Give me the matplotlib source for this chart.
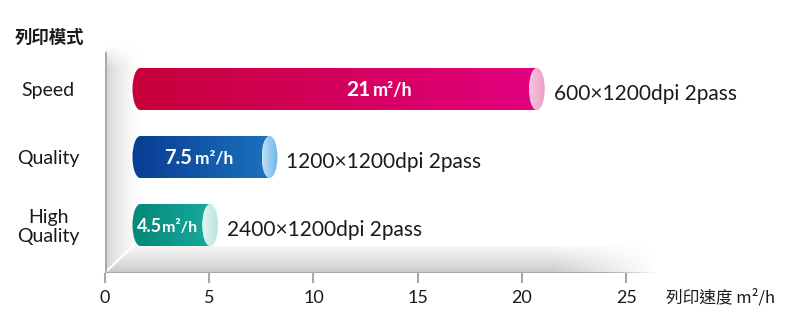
import numpy as np
import matplotlib.pyplot as plt
from matplotlib.patches import Ellipse, Polygon
from matplotlib.collections import LineCollection

plt.rcParams['font.family'] = ['Lato', 'Noto Sans CJK TC', 'DejaVu Sans']

# data
modes = ["High\nQuality", "Quality", "Speed"]
speeds = [4.5, 7.5, 21]
speed_text = ["4.5", "7.5", "21"]
unit = "m²/h"
resolutions = ["2400×1200dpi 2pass", "1200×1200dpi 2pass", "600×1200dpi 2pass"]
xticks = [0, 5, 10, 15, 20, 25]

# styles (left colour, right colour, cap left, cap right)
bar_cols = [("#07897b", "#16ab9d", "#e2f5f1", "#b9e6de"),
            ("#0a3e93", "#1b72be", "#c4e1f6", "#6bb4e6"),
            ("#c7003b", "#e2007f", "#f8c8de", "#ec9cc5")]
label_x = [2.05, 3.6, 12.6]       # where number and unit meet on each bar
unit_gap = [0.0, 0.12, 0.12]
num_size = [13, 14.5, 15]
unit_size = [11.5, 12.5, 13]
bar_start = 0.98
bar_h = 0.62
cap_w = 0.8

fig = plt.figure(figsize=(8.01, 3.32), dpi=100)
ax = fig.add_axes([105 / 801, 59 / 332, 550 / 801, 228 / 332])
xmax = 26.38
ybot, ytop = -0.706, 2.647


def hex2rgb(h):
    h = h.lstrip('#')
    return np.array([int(h[i:i + 2], 16) / 255 for i in (0, 2, 4)])


def hgrad(a, c0, c1, ext, clip, z):
    t = np.linspace(0, 1, 200)[:, None]
    img = ((1 - t) * hex2rgb(c0) + t * hex2rgb(c1))[None, :, :]
    im = a.imshow(img, extent=ext, aspect='auto', origin='lower',
                  interpolation='bilinear', zorder=z)
    im.set_clip_path(clip)
    return im


# back wall
nx, ny = 60, 200
gx = np.linspace(0, 1, nx)[None, :]
gy = np.linspace(0, 1, ny)[:, None]
wall = 0.80 + 0.20 * gx ** 0.6
wall = wall + (1 - wall) * np.clip((gy - 0.9) / 0.1, 0, 1)
ax.imshow(np.dstack([wall] * 3), extent=[0, 1.6, ybot, ytop], aspect='auto',
          origin='lower', interpolation='bilinear', zorder=0)

# floor
floor_top = ybot + 27 / 68
fx = np.linspace(0, xmax, 400)[None, :]
fy = np.linspace(1, 0, 60)[:, None]
floor = 0.78 + 0.19 * fy ** 0.8
fade = np.clip((fx - 21.5) / (xmax - 21.5), 0, 1)
floor = floor + (1 - floor) * fade
im = ax.imshow(np.dstack([floor] * 3), extent=[0, xmax, ybot, floor_top],
               aspect='auto', origin='upper', interpolation='bilinear', zorder=0.5)
fpoly = Polygon([(0, ybot), (xmax, ybot), (xmax, floor_top), (1.34, floor_top)],
                closed=True, transform=ax.transData, fc='none', ec='none')
ax.add_patch(fpoly)
im.set_clip_path(fpoly)
ax.plot([0.05, 1.34], [ybot + 0.02, floor_top], color='white', lw=1.5, zorder=1)

# axis line fading at the right
xs = np.linspace(0, xmax, 120)
segs = [[(xs[i], ybot), (xs[i + 1], ybot)] for i in range(len(xs) - 1)]
alphas = np.clip((xmax - xs[:-1]) / 2.5, 0, 1)
lc = LineCollection(segs, colors=[(0.64, 0.64, 0.64, a) for a in alphas],
                    linewidths=2, zorder=2)
ax.add_collection(lc)
ax.plot([0, 0], [ybot, ytop - 0.12], color='#a8a8a8', lw=2, zorder=2)

ax.set_xlim(0, xmax)
ax.set_ylim(ybot, ytop)
for s in ax.spines.values():
    s.set_visible(False)
ax.set_xticks(xticks)
ax.tick_params(axis='x', length=7.2, width=1.5, color='#a8a8a8', pad=5,
               labelsize=13, labelcolor='#1a1a1a')
ax.set_yticks(range(len(modes)))
ax.set_yticklabels(modes, ha='center', multialignment='center', fontsize=14,
                   color='#1a1a1a', linespacing=1.12)
ax.tick_params(axis='y', length=0, pad=41)
for lab in ax.get_yticklabels():
    lab.set_va('center_baseline')

ax.text(-0.1636, 1.03, "列印模式", transform=ax.transAxes, fontsize=12.5,
        fontweight='bold', family=['Noto Sans CJK TC'], va='center', ha='left',
        color='#1a1a1a')
ax.text(1.02, -0.11, "列印速度 m²/h", transform=ax.transAxes, fontsize=12,
        family=['Noto Sans CJK TC', 'Lato'], va='center', ha='left', color='#1a1a1a')

# bars on the back plane
ax2 = ax.twiny()
ax2.set_xlim(-0.808, 26.97)
ax2.axis('off')
ypos = np.arange(len(speeds))
widths = [v - bar_start for v in speeds]
bars = ax2.barh(ypos, widths, left=bar_start, height=bar_h, color='none', zorder=3)
for i, (b, v) in enumerate(zip(bars, speeds)):
    c0, c1, k0, k1 = bar_cols[i]
    y = ypos[i]
    ax2.add_patch(Ellipse((bar_start, y), cap_w, bar_h, fc=c0, ec='none', zorder=3))
    hgrad(ax2, c0, c1, [bar_start, v, y - bar_h / 2, y + bar_h / 2], b, 4)
    cap = Ellipse((v, y), cap_w, bar_h, fc='none', ec='none', zorder=5)
    ax2.add_patch(cap)
    hgrad(ax2, k0, k1, [v - cap_w / 2, v + cap_w / 2, y - bar_h / 2, y + bar_h / 2], cap, 5)
    ax2.text(label_x[i], y - 0.1, speed_text[i], color='white', fontsize=num_size[i],
             fontweight='bold', ha='right', va='baseline', zorder=6)
    ax2.text(label_x[i] + unit_gap[i], y - 0.1, unit, color='white',
             fontsize=unit_size[i], fontweight='bold', ha='left', va='baseline',
             zorder=6)
    ax2.text(v + 0.85, y - 0.16, resolutions[i], fontsize=15, ha='left',
             va='baseline', color='#1a1a1a', zorder=6)
ax2.set_xlim(-0.808, 26.97)
ax2.set_ylim(ybot, ytop)

fig.savefig("out.png", dpi=100)
